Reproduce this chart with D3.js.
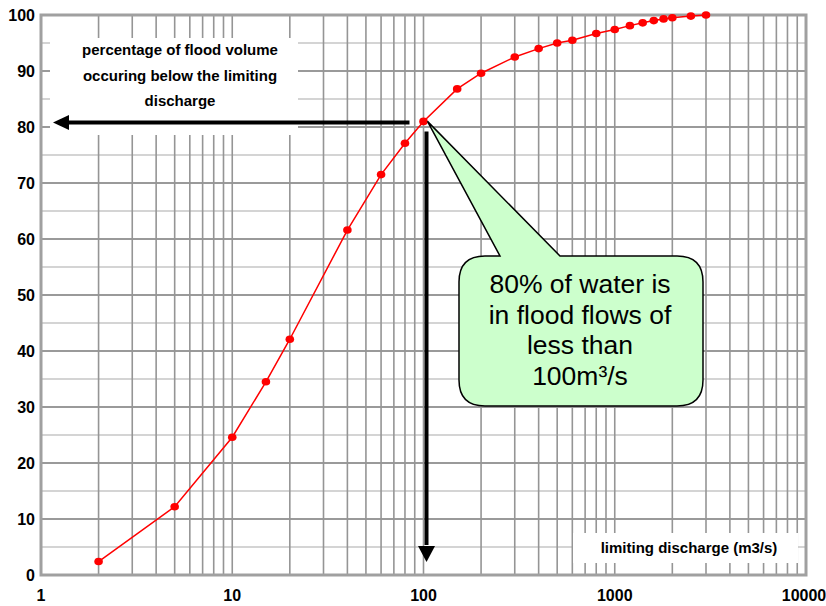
<!DOCTYPE html>
<html>
<head>
<meta charset="utf-8">
<script src="https://cdn.jsdelivr.net/npm/d3@7"></script>
<style>
  body { margin: 0; background: #fff; }
  text { font-family: Arial, "Liberation Sans", sans-serif; }
</style>
</head>
<body>
<script>
// data
var discharge = [2, 5, 10, 15, 20, 40, 60, 80, 100, 150, 200, 300, 400, 500, 600, 800, 1000, 1200, 1400, 1600, 1800, 2000, 2500, 3000];
var percent   = [2.4, 12.2, 24.6, 34.5, 42.1, 61.6, 71.5, 77.1, 81.0, 86.8, 89.6, 92.5, 94.0, 95.0, 95.5, 96.7, 97.4, 98.1, 98.6, 99.0, 99.3, 99.5, 99.8, 100];

var xTicks = [1, 10, 100, 1000, 10000];
var yTicks = [0, 10, 20, 30, 40, 50, 60, 70, 80, 90, 100];
var yMinor = [5, 15, 25, 35, 45, 55, 65, 75, 85, 95];

var boxLines = ["percentage of flood volume", "occuring below the limiting", "discharge"];
var calloutLines = ["80% of water is", "in flood flows of", "less than", "100m\u00b3/s"];
var xLabel = "limiting discharge (m3/s)";

// set the dimensions and margins of the graph
var margin = {top: 15, right: 20, bottom: 31, left: 41},
    width = 826 - margin.left - margin.right,
    height = 606 - margin.top - margin.bottom;

var svg = d3.select("body")
  .append("svg")
    .attr("width", 826)
    .attr("height", 606)
  .append("g")
    .attr("transform", "translate(" + margin.left + "," + margin.top + ")");

var x = d3.scaleLog().domain([1, 10000]).range([0, width]);
var y = d3.scaleLinear().domain([0, 100]).range([height, 0]);

// minor log grid: 2..9 in every decade, plus decade lines
var vLines = [];
xTicks.slice(0, -1).forEach(function(d) {
  for (var k = 1; k < 10; k++) if (d * k > 1) vLines.push(d * k);
});

var grid = svg.append("g");
grid.selectAll("line.minor")
  .data(yMinor)
  .enter().append("line")
    .attr("x1", 0).attr("x2", width)
    .attr("y1", d => y(d)).attr("y2", d => y(d))
    .style("stroke", "#d4d4d4").style("stroke-width", 2);
grid.selectAll("line.major")
  .data(yTicks.slice(1, -1))
  .enter().append("line")
    .attr("x1", 0).attr("x2", width)
    .attr("y1", d => y(d)).attr("y2", d => y(d))
    .style("stroke", "#9a9a9a").style("stroke-width", 2);
grid.selectAll("line.v")
  .data(vLines)
  .enter().append("line")
    .attr("x1", d => x(d)).attr("x2", d => x(d))
    .attr("y1", 0).attr("y2", height)
    .style("stroke", "#959595").style("stroke-width", 1.6);

// white label boxes sit over the grid
svg.append("rect")
  .attr("x", 9).attr("y", 23).attr("width", 248).attr("height", 97)
  .style("fill", "#fff");
svg.append("rect")
  .attr("x", 532).attr("y", 518).attr("width", 225).attr("height", 30)
  .style("fill", "#fff");

// frame
svg.append("rect")
  .attr("x", 0).attr("y", 0).attr("width", width).attr("height", height)
  .style("fill", "none").style("stroke", "#a0a0a0").style("stroke-width", 3);

// tick labels
svg.append("g").selectAll("text")
  .data(yTicks)
  .enter().append("text")
    .attr("x", -6).attr("y", d => y(d)).attr("dy", "0.36em")
    .attr("text-anchor", "end")
    .style("font-size", "16px").style("font-weight", "bold")
    .text(d => d);
svg.append("g").selectAll("text")
  .data(xTicks)
  .enter().append("text")
    .attr("x", d => Math.min(x(d), width + margin.right - 22))
    .attr("y", height + 26)
    .attr("text-anchor", "middle")
    .style("font-size", "16px").style("font-weight", "bold")
    .text(d => d);

// box texts
svg.append("g").selectAll("text")
  .data(boxLines)
  .enter().append("text")
    .attr("x", 139).attr("y", (d, i) => 40 + i * 25.5)
    .attr("text-anchor", "middle")
    .style("font-size", "15px").style("font-weight", "bold")
    .text(d => d);
svg.append("text")
  .attr("x", 648).attr("y", 538)
  .attr("text-anchor", "middle")
  .style("font-size", "15px").style("font-weight", "bold")
  .text(xLabel);

// the curve
var pts = discharge.map((d, i) => [x(d), y(percent[i])]);
svg.append("path")
  .attr("d", d3.line()(pts))
  .style("fill", "none").style("stroke", "#ff0000").style("stroke-width", 1.5);
svg.selectAll("ellipse")
  .data(pts)
  .enter().append("ellipse")
    .attr("cx", d => d[0]).attr("cy", d => d[1])
    .attr("rx", 4.3).attr("ry", 3.8)
    .style("fill", "#ff0000");

// arrows from the 100 m3/s point
var px = x(100), py = y(81);
var arrows = svg.append("g").style("fill", "#000");
arrows.append("line")
  .attr("x1", px - 14).attr("x2", 24).attr("y1", py + 1).attr("y2", py + 1)
  .style("stroke", "#000").style("stroke-width", 4);
arrows.append("path")
  .attr("d", "M" + 12 + "," + (py + 1) + "L" + 28 + "," + (py - 6.5) + "L" + 28 + "," + (py + 8.5) + "Z");
arrows.append("line")
  .attr("x1", px + 3).attr("x2", px + 3).attr("y1", py + 10).attr("y2", height - 30)
  .style("stroke", "#000").style("stroke-width", 4);
arrows.append("path")
  .attr("d", "M" + (px + 3) + "," + (height - 13) + "L" + (px - 5.5) + "," + (height - 29) + "L" + (px + 11.5) + "," + (height - 29) + "Z");

// callout bubble
var bx0 = 418, bx1 = 662, by0 = 241, by1 = 391, r = 26;
var tipX = px + 4, tipY = py;
var bubble = d3.path();
bubble.moveTo(bx0 + r, by0);
bubble.lineTo(459, by0);
bubble.lineTo(tipX, tipY);
bubble.lineTo(519, by0);
bubble.lineTo(bx1 - r, by0);
bubble.quadraticCurveTo(bx1, by0, bx1, by0 + r);
bubble.lineTo(bx1, by1 - r);
bubble.quadraticCurveTo(bx1, by1, bx1 - r, by1);
bubble.lineTo(bx0 + r, by1);
bubble.quadraticCurveTo(bx0, by1, bx0, by1 - r);
bubble.lineTo(bx0, by0 + r);
bubble.quadraticCurveTo(bx0, by0, bx0 + r, by0);
bubble.closePath();
svg.append("path")
  .attr("d", bubble.toString())
  .style("fill", "#ccffcc").style("stroke", "#000").style("stroke-width", 1.5);

svg.append("g").selectAll("text")
  .data(calloutLines)
  .enter().append("text")
    .attr("x", 539).attr("y", (d, i) => 278 + i * 30.7)
    .attr("text-anchor", "middle")
    .style("font-size", "26.5px")
    .text(d => d);
</script>
</body>
</html>
